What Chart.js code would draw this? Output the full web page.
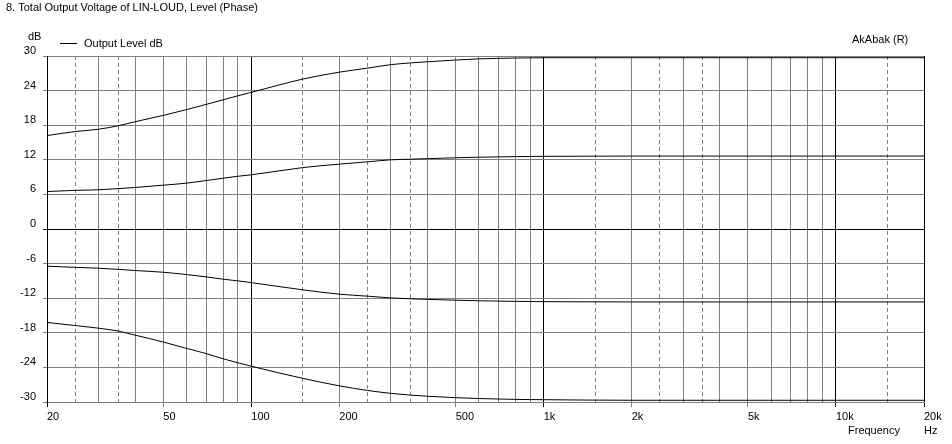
<!DOCTYPE html>
<html>
<head>
<meta charset="utf-8">
<script src="https://cdn.jsdelivr.net/npm/chart.js@4.4.1/dist/chart.umd.min.js"></script>
<style>
  html, body { margin: 0; padding: 0; background: #fff; }
  #wrap { width: 952px; height: 444px; }
</style>
</head>
<body>
<div id="wrap"><canvas id="levelChart"></canvas></div>
<script>
// frecuencias (Hz) y niveles (dB)
const frequencies = [20, 25, 30, 35, 40, 50, 60, 70, 80, 90, 100, 150, 200, 250, 300, 350, 400, 500, 600, 800, 1000, 2000, 5000, 10000, 20000];
const levelTop = [16.2, 16.9, 17.3, 17.9, 18.6, 19.7, 20.7, 21.6, 22.4, 23.1, 23.7, 26.0, 27.2, 27.9, 28.5, 28.8, 29.0, 29.3, 29.5, 29.65, 29.7, 29.7, 29.7, 29.7, 29.7];
const levelUpper = [6.5, 6.7, 6.8, 7.0, 7.2, 7.6, 7.95, 8.4, 8.8, 9.15, 9.4, 10.65, 11.25, 11.65, 12.0, 12.1, 12.2, 12.35, 12.45, 12.55, 12.6, 12.65, 12.65, 12.65, 12.65];
const levelLower = [-6.45, -6.65, -6.8, -7.0, -7.2, -7.5, -7.9, -8.3, -8.7, -9.0, -9.3, -10.55, -11.3, -11.65, -11.95, -12.1, -12.2, -12.35, -12.45, -12.55, -12.6, -12.65, -12.65, -12.65, -12.65];
const levelBottom = [-16.2, -16.75, -17.2, -17.7, -18.4, -19.6, -20.7, -21.6, -22.5, -23.2, -23.8, -25.9, -27.2, -28.0, -28.5, -28.8, -29.0, -29.25, -29.4, -29.55, -29.6, -29.7, -29.7, -29.7, -29.7];

// lineas de la rejilla y etiquetas del eje X
const xGridValues = [20, 25, 30, 35, 40, 50, 60, 70, 80, 90, 100, 150, 200, 250, 300, 350, 400, 500, 600, 700, 800, 900,
                     1000, 1500, 2000, 2500, 3000, 3500, 4000, 5000, 6000, 7000, 8000, 9000, 10000, 15000, 20000];
const xDashedValues = [25, 35, 150, 250, 350, 1500, 2500, 3500, 15000];
const xBlackValues = [20, 100, 1000, 10000, 20000];
const xTickValues = [20, 50, 100, 200, 500, 1000, 2000, 5000, 10000, 20000];
const xTickLabels = ['20', '50', '100', '200', '500', '1k', '2k', '5k', '10k', '20k'];

const titleText = '8. Total Output Voltage of LIN-LOUD, Level (Phase)';
const seriesName = 'Output Level dB';

const FONT = '11px "Liberation Sans", Arial, sans-serif';
const GREY = '#808080';

function toPoints(values) {
  return frequencies.map((f, i) => ({ x: f, y: values[i] }));
}

function makeDataset(values) {
  return {
    label: seriesName,
    data: toPoints(values),
    borderColor: '#000',
    borderWidth: 1,
    pointRadius: 0,
    fill: false,
    cubicInterpolationMode: 'monotone'
  };
}

// textos sueltos: titulo, leyenda, unidades
const freeText = {
  id: 'freeText',
  afterDraw(chart) {
    const c = chart.ctx;
    c.save();
    c.font = FONT;
    c.fillStyle = '#000';
    c.textBaseline = 'middle';
    c.textAlign = 'left';
    c.fillText(titleText, 6, 8);
    c.fillText('dB', 28, 37);
    c.fillText(seriesName, 84, 44);
    c.fillText('AkAbak (R)', 852, 40);
    c.fillText('Frequency', 848, 431);
    c.fillText('Hz', 924, 431);
    c.strokeStyle = '#000';
    c.lineWidth = 1;
    c.beginPath();
    c.moveTo(60, 43.5);
    c.lineTo(77, 43.5);
    c.stroke();
    c.restore();
  }
};

new Chart(document.getElementById('levelChart'), {
  type: 'line',
  data: {
    datasets: [makeDataset(levelTop), makeDataset(levelUpper), makeDataset(levelLower), makeDataset(levelBottom)]
  },
  options: {
    responsive: true,
    maintainAspectRatio: false,
    animation: false,
    layout: { padding: { top: 56, right: 28, bottom: 0, left: 0 } },
    plugins: {
      legend: { display: false },
      title: { display: false },
      tooltip: { enabled: false }
    },
    scales: {
      x: {
        type: 'logarithmic',
        min: 20,
        max: 20000,
        afterBuildTicks: (scale) => {
          scale.ticks = xGridValues.map(v => ({ value: v }));
        },
        afterFit: (scale) => { scale.height = 42; },
        ticks: {
          autoSkip: false,
          maxRotation: 0,
          align: 'start',
          padding: 3,
          color: '#000',
          font: { family: '"Liberation Sans", Arial, sans-serif', size: 11 },
          callback: (value) => {
            const i = xTickValues.indexOf(value);
            return i >= 0 ? xTickLabels[i] : '';
          }
        },
        grid: {
          lineWidth: 1,
          tickLength: 5,
          color: (ctx) => (ctx.tick && xBlackValues.includes(ctx.tick.value)) ? '#000' : GREY,
          tickColor: (ctx) => {
            if (!ctx.tick || !xTickValues.includes(ctx.tick.value)) return 'rgba(0,0,0,0)';
            return xBlackValues.includes(ctx.tick.value) ? '#000' : GREY;
          }
        },
        border: {
          color: GREY,
          dash: (ctx) => (ctx.tick && xDashedValues.includes(ctx.tick.value)) ? [4, 3] : []
        }
      },
      y: {
        min: -30,
        max: 30,
        afterFit: (scale) => { scale.width = 47; },
        ticks: {
          stepSize: 6,
          padding: 7,
          labelOffset: -5,
          color: '#000',
          font: { family: '"Liberation Sans", Arial, sans-serif', size: 11 }
        },
        grid: {
          lineWidth: 1,
          tickLength: 4,
          color: (ctx) => (ctx.tick && ctx.tick.value === 0) ? '#000' : GREY
        },
        border: { color: '#000' }
      }
    }
  },
  plugins: [freeText]
});
</script>
</body>
</html>
